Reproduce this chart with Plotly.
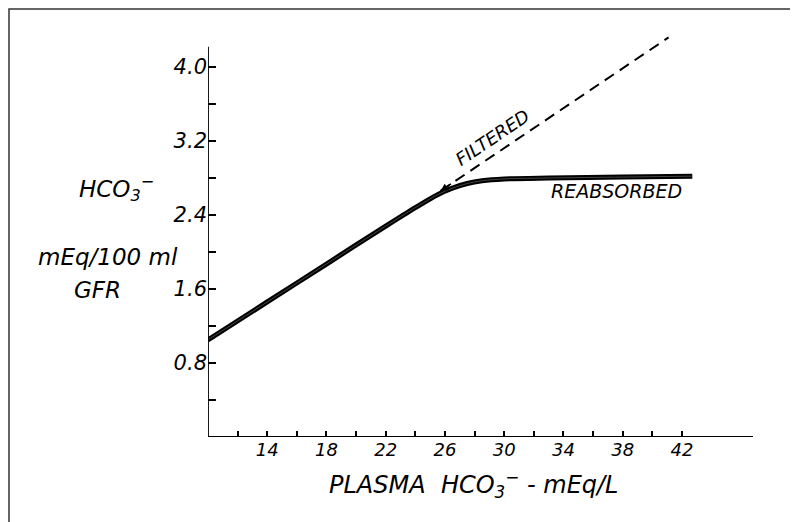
import plotly.graph_objects as go

# ---- data ----
plasma_reabs = [10, 14, 18, 22, 24, 25.5, 26.5, 27.5, 28.5, 30, 33, 38, 42.7]
reabsorbed = [1.05, 1.46, 1.87, 2.28, 2.48, 2.62, 2.69, 2.74, 2.77, 2.79, 2.80, 2.81, 2.82]

plasma_filt = [25.7, 41.1]
filtered = [2.66, 4.32]

x_tickvals = [12, 14, 16, 18, 20, 22, 24, 26, 28, 30, 32, 34, 36, 38, 40, 42]
x_ticktext = ["", "14", "", "18", "", "22", "", "26", "", "30", "", "34", "", "38", "", "42"]
y_tickvals = [0.4, 0.8, 1.2, 1.6, 2.0, 2.4, 2.8, 3.2, 3.6, 4.0]
y_ticktext = ["", "0.8", "", "1.6", "", "2.4", "", "3.2", "", "4.0"]

FONT = "DejaVu Sans"

fig = go.Figure()

# filtered (dashed)
fig.add_trace(go.Scatter(
    x=plasma_filt, y=filtered, mode="lines",
    line=dict(color="black", width=2, dash="11px,7px"),
    hoverinfo="skip", showlegend=False))

# reabsorbed (double stroked line)
fig.add_trace(go.Scatter(
    x=plasma_reabs, y=reabsorbed, mode="lines",
    line=dict(color="black", width=5, shape="spline", smoothing=0.8),
    hoverinfo="skip", showlegend=False))
fig.add_trace(go.Scatter(
    x=plasma_reabs, y=reabsorbed, mode="lines",
    line=dict(color="#555555", width=0.8, shape="spline", smoothing=0.8),
    hoverinfo="skip", showlegend=False))

X0, X1 = 10, 46.8
Y0, Y1 = 0, 4.4
YAXIS_TOP = 4.22

# the page body adds an 8px offset; positions below are given in reference pixels
PL, PB, PW, PH = 208, 437, 545, 407


def px(xp):
    return (xp - PL) / PW


def py(yp):
    return (PB - yp) / PH


shapes = [
    dict(type="line", xref="x", yref="y", x0=X0, x1=X1, y0=0, y1=0,
         line=dict(color="black", width=1.8)),
    dict(type="line", xref="x", yref="y", x0=X0, x1=X0, y0=0, y1=YAXIS_TOP,
         line=dict(color="black", width=1.8)),
    dict(type="rect", xref="paper", yref="paper",
         x0=px(9), x1=px(794), y0=py(540), y1=py(9),
         line=dict(color="#333333", width=1.5), fillcolor="rgba(0,0,0,0)"),
]

lab_font = dict(family=FONT, size=23, color="black", style="italic")
annotations = [
    dict(xref="paper", yref="paper", x=px(77), y=py(188),
         xanchor="left", yanchor="middle", showarrow=False,
         text="HCO<sub>3</sub><sup>−</sup>", font=lab_font),
    dict(xref="paper", yref="paper", x=px(36), y=py(257),
         xanchor="left", yanchor="middle", showarrow=False,
         text="mEq/100 ml", font=lab_font),
    dict(xref="paper", yref="paper", x=px(72), y=py(290),
         xanchor="left", yanchor="middle", showarrow=False,
         text="GFR", font=lab_font),
    dict(xref="paper", yref="paper", x=px(473), y=py(484),
         xanchor="center", yanchor="middle", showarrow=False,
         text="PLASMA  HCO<sub>3</sub><sup>−</sup> - mEq/L",
         font=dict(family=FONT, size=24, color="black", style="italic")),
    dict(xref="x", yref="y", x=29.2, y=3.24, textangle=-34,
         xanchor="center", yanchor="middle", showarrow=False,
         text="FILTERED", font=dict(family=FONT, size=18, color="black", style="italic")),
    dict(xref="x", yref="y", x=37.6, y=2.66,
         xanchor="center", yanchor="middle", showarrow=False,
         text="REABSORBED", font=dict(family=FONT, size=19, color="black", style="italic")),
    dict(xref="x", yref="y", x=plasma_filt[0], y=filtered[0],
         axref="pixel", ayref="pixel", ax=12, ay=-8, text="",
         showarrow=True, arrowhead=2, arrowsize=1, arrowwidth=1.5,
         arrowcolor="black", standoff=0),
]

fig.update_layout(
    width=790, height=514,
    margin=dict(l=200, r=45, t=22, b=85),
    paper_bgcolor="white", plot_bgcolor="white",
    shapes=shapes, annotations=annotations,
    xaxis=dict(range=[X0, X1], showgrid=False, zeroline=False, showline=False,
               tickmode="array", tickvals=x_tickvals, ticktext=x_ticktext,
               ticks="inside", ticklen=6, tickwidth=1.5, tickcolor="black",
               tickfont=dict(family=FONT, size=18, color="black", style="italic")),
    yaxis=dict(range=[Y0, Y1], showgrid=False, zeroline=False, showline=False,
               tickmode="array", tickvals=y_tickvals, ticktext=y_ticktext,
               ticks="inside", ticklen=8, tickwidth=1.5, tickcolor="black",
               tickfont=dict(family=FONT, size=21, color="black", style="italic")),
)

fig.write_html("out.html")
